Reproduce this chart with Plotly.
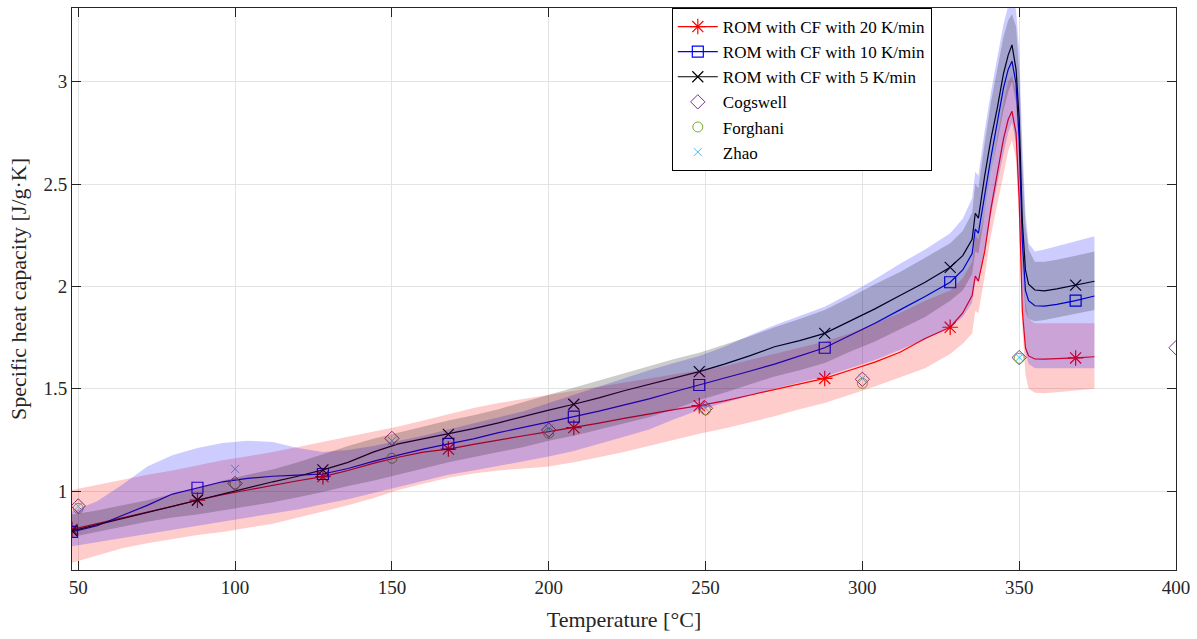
import plotly.graph_objects as go

# Temperature grid [°C] of the reduced-order-model (ROM) curves
temp = [48, 56, 64, 72, 80, 88, 96, 104, 112, 120, 128, 136, 144, 152, 160, 168,
        176, 184, 192, 200, 208, 216, 224, 232, 240, 248, 256, 264, 272, 280, 288,
        296, 304, 312, 320, 328, 332, 335, 336, 337, 339, 341, 343, 345, 346.5,
        347.7, 349, 350, 351, 352, 353, 355, 358, 362, 368, 374]

# Temperatures at which the ROM curves carry a marker
marker_temp = [48, 88, 128, 168, 208, 248, 288, 328, 368]

# ROM mean specific heat capacity [J/g·K]
cp_20 = [0.812, 0.84, 0.868, 0.895, 0.925, 0.955, 0.982, 1.005, 1.028, 1.05, 1.07,
         1.10, 1.135, 1.165, 1.19, 1.205, 1.228, 1.25, 1.27, 1.29, 1.31, 1.332,
         1.355, 1.378, 1.398, 1.417, 1.44, 1.468, 1.495, 1.522, 1.55, 1.59, 1.63,
         1.678, 1.745, 1.80, 1.87, 1.955, 2.05, 2.026, 2.17, 2.38, 2.56, 2.72,
         2.815, 2.855, 2.75, 2.42, 1.88, 1.70, 1.66, 1.645, 1.644, 1.646, 1.65, 1.656]
cp_10 = [0.80, 0.83, 0.88, 0.93, 0.985, 1.016, 1.045, 1.062, 1.072, 1.078, 1.083,
         1.11, 1.145, 1.175, 1.205, 1.23, 1.255, 1.285, 1.31, 1.337, 1.363, 1.39,
         1.42, 1.45, 1.485, 1.518, 1.55, 1.585, 1.62, 1.66, 1.70, 1.76, 1.82,
         1.885, 1.95, 2.02, 2.08, 2.16, 2.28, 2.26, 2.45, 2.63, 2.80, 2.97, 3.06,
         3.10, 2.99, 2.72, 2.22, 1.98, 1.93, 1.905, 1.903, 1.912, 1.93, 1.953]
cp_5 = [0.805, 0.835, 0.865, 0.895, 0.925, 0.956, 0.985, 1.015, 1.045, 1.072, 1.103,
        1.14, 1.19, 1.23, 1.255, 1.277, 1.305, 1.333, 1.365, 1.395, 1.424, 1.455,
        1.49, 1.52, 1.55, 1.583, 1.62, 1.66, 1.705, 1.735, 1.77, 1.83, 1.89,
        1.955, 2.02, 2.093, 2.15, 2.23, 2.357, 2.333, 2.54, 2.72, 2.87, 3.04, 3.13,
        3.18, 3.06, 2.82, 2.32, 2.08, 2.01, 1.982, 1.978, 1.988, 2.006, 2.025]

# Confidence bands (lower / upper) of each ROM curve
lo_20 = [0.65, 0.685, 0.72, 0.745, 0.765, 0.785, 0.80, 0.82, 0.84, 0.87, 0.90, 0.93,
         0.965, 1.005, 1.035, 1.065, 1.085, 1.10, 1.11, 1.12, 1.14, 1.165, 1.19,
         1.22, 1.25, 1.28, 1.305, 1.335, 1.365, 1.40, 1.43, 1.47, 1.51, 1.555, 1.60,
         1.67, 1.72, 1.77, 1.88, 1.87, 2.05, 2.25, 2.40, 2.55, 2.66, 2.715, 2.62,
         2.30, 1.80, 1.57, 1.50, 1.48, 1.478, 1.482, 1.49, 1.50]
hi_20 = [1.005, 1.03, 1.055, 1.08, 1.10, 1.125, 1.15, 1.17, 1.19, 1.215, 1.24, 1.265,
         1.29, 1.315, 1.345, 1.375, 1.405, 1.43, 1.45, 1.47, 1.49, 1.51, 1.53, 1.55,
         1.57, 1.59, 1.61, 1.64, 1.67, 1.70, 1.73, 1.77, 1.82, 1.87, 1.93, 1.98,
         2.04, 2.12, 2.25, 2.23, 2.35, 2.55, 2.73, 2.90, 3.00, 3.03, 2.95, 2.65,
         2.15, 1.92, 1.84, 1.82, 1.82, 1.82, 1.82, 1.82]
lo_10 = [0.73, 0.75, 0.77, 0.79, 0.81, 0.83, 0.85, 0.87, 0.89, 0.91, 0.935, 0.96,
         0.99, 1.02, 1.05, 1.08, 1.10, 1.12, 1.145, 1.168, 1.195, 1.23, 1.265, 1.30,
         1.35, 1.396, 1.43, 1.465, 1.50, 1.53, 1.56, 1.60, 1.64, 1.69, 1.74, 1.80,
         1.85, 1.92, 2.03, 2.02, 2.18, 2.35, 2.50, 2.65, 2.75, 2.80, 2.70, 2.42,
         1.92, 1.68, 1.62, 1.60, 1.60, 1.60, 1.60, 1.60]
hi_10 = [0.90, 0.95, 1.03, 1.12, 1.175, 1.21, 1.235, 1.245, 1.24, 1.21, 1.19, 1.20,
         1.22, 1.245, 1.27, 1.30, 1.33, 1.36, 1.39, 1.43, 1.47, 1.51, 1.55, 1.59,
         1.625, 1.66, 1.705, 1.76, 1.81, 1.855, 1.90, 1.965, 2.035, 2.11, 2.18,
         2.26, 2.33, 2.43, 2.56, 2.54, 2.76, 2.95, 3.12, 3.28, 3.37, 3.41, 3.35,
         3.15, 2.70, 2.36, 2.21, 2.17, 2.18, 2.195, 2.22, 2.245]
lo_5 = [0.775, 0.80, 0.825, 0.85, 0.87, 0.885, 0.905, 0.925, 0.945, 0.97, 0.995,
        1.025, 1.05, 1.08, 1.11, 1.14, 1.165, 1.19, 1.215, 1.245, 1.27, 1.30, 1.33,
        1.36, 1.40, 1.445, 1.48, 1.52, 1.56, 1.59, 1.625, 1.68, 1.73, 1.79, 1.85,
        1.93, 1.98, 2.06, 2.17, 2.16, 2.35, 2.55, 2.70, 2.86, 2.95, 3.00, 2.90,
        2.62, 2.10, 1.88, 1.84, 1.83, 1.835, 1.845, 1.865, 1.885]
hi_5 = [0.885, 0.905, 0.93, 0.955, 0.985, 1.015, 1.05, 1.08, 1.105, 1.14, 1.18,
        1.22, 1.255, 1.285, 1.315, 1.345, 1.37, 1.40, 1.435, 1.47, 1.505, 1.54,
        1.575, 1.61, 1.645, 1.675, 1.715, 1.755, 1.80, 1.84, 1.885, 1.945, 2.01,
        2.07, 2.14, 2.21, 2.27, 2.36, 2.50, 2.48, 2.70, 2.90, 3.06, 3.22, 3.30,
        3.33, 3.27, 3.05, 2.60, 2.30, 2.18, 2.12, 2.12, 2.13, 2.15, 2.17]

# Literature measurements
cogswell_t = [50, 100, 150, 200, 250, 300, 350, 400]
cogswell_cp = [0.927, 1.037, 1.257, 1.298, 1.404, 1.546, 1.652, 1.70]
forghani_t = [50, 100, 150, 200, 250, 300, 350]
forghani_cp = [0.915, 1.035, 1.16, 1.282, 1.396, 1.526, 1.648]
zhao_t = [50, 100, 150, 200, 250, 300, 350]
zhao_cp = [0.925, 1.108, 1.245, 1.305, 1.405, 1.55, 1.652]

FONT = "Liberation Serif"
INK = "#262626"

models = [
    ("ROM with CF with 20 K/min", cp_20, lo_20, hi_20, "#ff0000", "asterisk-open", 13,
     "rgba(255,0,0,0.2)"),
    ("ROM with CF with 10 K/min", cp_10, lo_10, hi_10, "#0000ff", "square-open", 11,
     "rgba(0,0,255,0.2)"),
    ("ROM with CF with 5 K/min", cp_5, lo_5, hi_5, "#000000", "x-thin-open", 11,
     "rgba(0,0,0,0.2)"),
]

fig = go.Figure()

# Model curves (drawn first so the translucent bands lie over them)
for rank, (name, cp, lo, hi, color, symbol, size, fill) in enumerate(models):
    fig.add_trace(go.Scatter(x=temp, y=cp, mode="lines", showlegend=False,
                             line=dict(color=color, width=1.2), hoverinfo="skip"))
    mx = [t for t in temp if t in marker_temp]
    my = [v for t, v in zip(temp, cp) if t in marker_temp]
    fig.add_trace(go.Scatter(x=mx, y=my, mode="markers", showlegend=False,
                             marker=dict(symbol=symbol, size=size, color=color,
                                         line=dict(color=color, width=1.2))))
    fig.add_trace(go.Scatter(x=[None], y=[None], mode="lines+markers", name=name,
                             legendrank=rank + 1,
                             line=dict(color=color, width=1.2),
                             marker=dict(symbol=symbol, size=size, color=color,
                                         line=dict(color=color, width=1.2))))

# Measurement data sets
experiments = [
    ("Cogswell", cogswell_t, cogswell_cp, "#7e2f8e", "diamond-open", 11),
    ("Forghani", forghani_t, forghani_cp, "#77ac30", "circle-open", 10),
    ("Zhao", zhao_t, zhao_cp, "#4dbeee", "x-thin-open", 8),
]
for k, (name, tx, cy, color, symbol, size) in enumerate(experiments):
    fig.add_trace(go.Scatter(x=tx, y=cy, mode="markers", name=name, legendrank=4 + k,
                             marker=dict(symbol=symbol, size=size, color=color,
                                         line=dict(color=color, width=1))))

# Uncertainty bands
for name, cp, lo, hi, color, symbol, size, fill in models:
    fig.add_trace(go.Scatter(x=temp + temp[::-1], y=hi + lo[::-1], mode="lines",
                             fill="toself", fillcolor=fill, line=dict(width=0),
                             showlegend=False, hoverinfo="skip"))

axis_common = dict(
    showline=True, linecolor=INK, linewidth=1, mirror="ticks",
    ticks="inside", ticklen=9, tickcolor=INK, tickwidth=1,
    showgrid=True, gridcolor="#e3e3e3", gridwidth=1, zeroline=False,
    tickfont=dict(family=FONT, size=19, color=INK),
)

fig.update_layout(
    width=1197, height=639,
    margin=dict(l=72, r=17, t=7, b=69),
    paper_bgcolor="white", plot_bgcolor="white",
    font=dict(family=FONT, color=INK),
    xaxis=dict(range=[48, 400], tickmode="array",
               tickvals=[50, 100, 150, 200, 250, 300, 350, 400],
               title=dict(text="Temperature [°C]", font=dict(family=FONT, size=22, color=INK),
                          standoff=14),
               **axis_common),
    yaxis=dict(range=[0.614, 3.36], tickmode="array",
               tickvals=[1, 1.5, 2, 2.5, 3],
               title=dict(text="Specific heat capacity [J/g·K]",
                          font=dict(family=FONT, size=22, color=INK), standoff=10),
               **axis_common),
    legend=dict(x=0.5433, y=1.0, xanchor="left", yanchor="top",
                bgcolor="white", bordercolor="#000000", borderwidth=1,
                font=dict(family=FONT, size=17, color="#000000"),
                itemwidth=40, tracegroupgap=0),
)

fig.write_html("out.html")
